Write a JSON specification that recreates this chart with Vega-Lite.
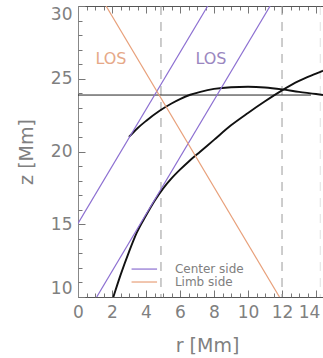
{
  "$schema": "https://vega.github.io/schema/vega-lite/v6.json",
  "width": 245,
  "height": 291,
  "autosize": {"type": "none"},
  "padding": {"left": 78, "top": 6, "right": 0, "bottom": 61},
  "background": "white",
  "config": {
    "view": {"stroke": null},
    "axis": {
      "labelFont": "DejaVu Sans",
      "labelFontSize": 17,
      "labelColor": "#808080",
      "titleFont": "DejaVu Sans",
      "titleFontSize": 19,
      "titleFontWeight": "normal",
      "titleColor": "#808080",
      "domainColor": "#555555",
      "tickColor": "#777777",
      "tickWidth": 1,
      "grid": false
    }
  },
  "datasets": {
    "dashes": [
      {"r": 4.88, "faint": "no"},
      {"r": 12.0, "faint": "no"},
      {"r": 14.25, "faint": "yes"}
    ],
    "level": [
      {"r": 0.0, "z": 23.88},
      {"r": 13.7, "z": 23.88}
    ],
    "curves": [
      {"curve": "A", "r": 3.0, "z": 21.0},
      {"curve": "A", "r": 3.5, "z": 21.6},
      {"curve": "A", "r": 4.0, "z": 22.1},
      {"curve": "A", "r": 4.8, "z": 22.8},
      {"curve": "A", "r": 5.5, "z": 23.3},
      {"curve": "A", "r": 6.0, "z": 23.6},
      {"curve": "A", "r": 6.6, "z": 23.9},
      {"curve": "A", "r": 7.2, "z": 24.1},
      {"curve": "A", "r": 8.0, "z": 24.3},
      {"curve": "A", "r": 9.0, "z": 24.42},
      {"curve": "A", "r": 10.0, "z": 24.45},
      {"curve": "A", "r": 11.0, "z": 24.4},
      {"curve": "A", "r": 12.0, "z": 24.27},
      {"curve": "A", "r": 13.0, "z": 24.1},
      {"curve": "A", "r": 14.0, "z": 23.95},
      {"curve": "A", "r": 14.41, "z": 23.88},
      {"curve": "B", "r": 2.08, "z": 10.0},
      {"curve": "B", "r": 2.5, "z": 11.5},
      {"curve": "B", "r": 3.0, "z": 13.1},
      {"curve": "B", "r": 3.45, "z": 14.4},
      {"curve": "B", "r": 4.0, "z": 15.6},
      {"curve": "B", "r": 4.5, "z": 16.6},
      {"curve": "B", "r": 5.0, "z": 17.45},
      {"curve": "B", "r": 5.5, "z": 18.15},
      {"curve": "B", "r": 6.0, "z": 18.75},
      {"curve": "B", "r": 6.5, "z": 19.3},
      {"curve": "B", "r": 7.2, "z": 20.0},
      {"curve": "B", "r": 8.0, "z": 20.8},
      {"curve": "B", "r": 9.0, "z": 21.8},
      {"curve": "B", "r": 10.0, "z": 22.65},
      {"curve": "B", "r": 11.0, "z": 23.45},
      {"curve": "B", "r": 12.0, "z": 24.2},
      {"curve": "B", "r": 13.0, "z": 24.85},
      {"curve": "B", "r": 14.0, "z": 25.35},
      {"curve": "B", "r": 14.41, "z": 25.55}
    ],
    "sightlines": [
      {"ray": "c1", "side": "Center side", "r": 0.0, "z": 15.05},
      {"ray": "c1", "side": "Center side", "r": 7.63, "z": 30.0},
      {"ray": "c2", "side": "Center side", "r": 1.1, "z": 10.0},
      {"ray": "c2", "side": "Center side", "r": 11.3, "z": 30.0},
      {"ray": "l1", "side": "Limb side", "r": 1.65, "z": 30.0},
      {"ray": "l1", "side": "Limb side", "r": 11.85, "z": 10.0}
    ],
    "tags": [
      {"side": "Limb side", "r": 1.94, "z": 26.36, "text": "LOS"},
      {"side": "Center side", "r": 7.82, "z": 26.36, "text": "LOS"}
    ],
    "key": [
      {"side": "Center side", "r0": 3.15, "r1": 4.65, "rt": 5.7, "z": 11.92},
      {"side": "Limb side", "r0": 3.15, "r1": 4.65, "rt": 5.7, "z": 11.03}
    ]
  },
  "resolve": {
    "axis": {"x": "independent", "y": "independent"},
    "scale": {"color": "independent"}
  },
  "layer": [
    {
      "data": {"name": "dashes"},
      "mark": {"type": "rule", "strokeWidth": 1, "strokeDash": [9, 7], "color": "#9a9a9a"},
      "encoding": {
        "x": {
          "field": "r", "type": "quantitative",
          "scale": {"domain": [0, 14.41], "nice": false, "zero": false},
          "axis": {
            "orient": "bottom", "values": [0, 2, 4, 6, 8, 10, 12, 14],
            "tickSize": -7, "labelPadding": 14, "title": "r [Mm]",
            "titleX": 129, "titlePadding": 16, "labelFlush": false,
            "labelExpr": "datum.value >= 14 ? '' : datum.label"
          }
        },
        "strokeOpacity": {
          "field": "faint", "type": "nominal",
          "scale": {"domain": ["no", "yes"], "range": [1, 0.3]},
          "legend": null
        }
      }
    },
    {
      "data": {"name": "level"},
      "mark": {"type": "line", "color": "#222222", "strokeWidth": 1},
      "encoding": {
        "x": {
          "field": "r", "type": "quantitative",
          "scale": {"domain": [0, 14.41], "nice": false, "zero": false},
          "axis": {
            "orient": "bottom",
            "values": [0.5, 1, 1.5, 2.5, 3, 3.5, 4.5, 5, 5.5, 6.5, 7, 7.5, 8.5, 9, 9.5, 10.5, 11, 11.5, 12.5, 13, 13.5],
            "tickSize": -4, "labels": false, "domain": false, "title": null
          }
        },
        "y": {
          "field": "z", "type": "quantitative",
          "scale": {"domain": [10, 30], "nice": false, "zero": false},
          "axis": {
            "orient": "left", "values": [10, 15, 20, 25, 30],
            "tickSize": -7, "labelPadding": 13, "title": "z [Mm]",
            "titlePadding": 14, "labelFlush": true, "domainColor": "#888888"
          }
        }
      }
    },
    {
      "data": {"name": "curves"},
      "mark": {"type": "line", "color": "#111111", "strokeWidth": 1.9, "interpolate": "monotone", "clip": true},
      "encoding": {
        "x": {
          "field": "r", "type": "quantitative",
          "scale": {"domain": [0, 14.41], "nice": false, "zero": false},
          "axis": {
            "orient": "top",
            "values": [0.5, 1, 1.5, 2.5, 3, 3.5, 4.5, 5, 5.5, 6.5, 7, 7.5, 8.5, 9, 9.5, 10.5, 11, 11.5, 12.5, 13, 13.5],
            "tickSize": -4, "labels": false, "title": null
          }
        },
        "y": {
          "field": "z", "type": "quantitative",
          "scale": {"domain": [10, 30], "nice": false, "zero": false},
          "axis": {
            "orient": "left",
            "values": [11, 12, 13, 14, 16, 17, 18, 19, 21, 22, 23, 24, 26, 27, 28, 29],
            "tickSize": -4, "labels": false, "domain": false, "title": null
          }
        },
        "detail": {"field": "curve", "type": "nominal"}
      }
    },
    {
      "data": {"name": "sightlines"},
      "mark": {"type": "line", "strokeWidth": 1.2, "clip": true},
      "encoding": {
        "x": {
          "field": "r", "type": "quantitative",
          "scale": {"domain": [0, 14.41], "nice": false, "zero": false},
          "axis": {
            "orient": "top", "values": [0, 2, 4, 6, 8, 10, 12, 14],
            "tickSize": -7, "labels": false, "domain": false, "title": null
          }
        },
        "y": {
          "field": "z", "type": "quantitative",
          "scale": {"domain": [10, 30], "nice": false, "zero": false},
          "axis": null
        },
        "color": {
          "field": "side", "type": "nominal",
          "scale": {"domain": ["Center side", "Limb side"], "range": ["#8c6fd1", "#e8a07a"]},
          "legend": null
        },
        "detail": {"field": "ray", "type": "nominal"}
      }
    },
    {
      "data": {"name": "tags"},
      "mark": {"type": "text", "font": "DejaVu Sans", "fontSize": 16, "align": "center", "baseline": "middle"},
      "encoding": {
        "x": {
          "field": "r", "type": "quantitative",
          "scale": {"domain": [0, 14.41], "nice": false, "zero": false},
          "axis": {
            "orient": "bottom", "values": [14], "ticks": false, "tickSize": 0,
            "domain": false, "labelPadding": 7, "labelOffset": -7,
            "labelFlush": false, "title": null
          }
        },
        "y": {"field": "z", "type": "quantitative", "axis": null},
        "text": {"field": "text"},
        "color": {
          "field": "side", "type": "nominal",
          "scale": {"domain": ["Center side", "Limb side"], "range": ["#9a86c0", "#e6a888"]},
          "legend": null
        }
      }
    },
    {
      "data": {"name": "key"},
      "mark": {"type": "rule", "strokeWidth": 1.2},
      "encoding": {
        "x": {"field": "r0", "type": "quantitative", "axis": null},
        "x2": {"field": "r1"},
        "y": {"field": "z", "type": "quantitative", "axis": null},
        "color": {
          "field": "side", "type": "nominal",
          "scale": {"domain": ["Center side", "Limb side"], "range": ["#8c6fd1", "#e8a07a"]},
          "legend": null
        }
      }
    },
    {
      "data": {"name": "key"},
      "mark": {"type": "text", "font": "DejaVu Sans", "fontSize": 12, "align": "left", "baseline": "middle", "color": "#808080"},
      "encoding": {
        "x": {"field": "rt", "type": "quantitative", "axis": null},
        "y": {"field": "z", "type": "quantitative", "axis": null},
        "text": {"field": "side"}
      }
    }
  ]
}
